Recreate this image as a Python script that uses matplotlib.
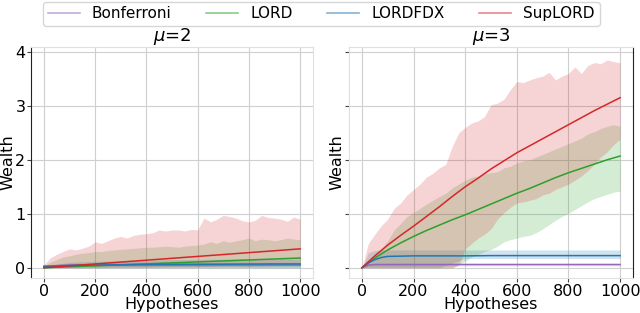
import numpy as np
import matplotlib
matplotlib.use("Agg")
import matplotlib.pyplot as plt
from matplotlib.lines import Line2D

methods = ["Bonferroni", "LORD", "LORDFDX", "SupLORD"]
colors = {"Bonferroni": "tab:purple", "LORD": "tab:green",
          "LORDFDX": "tab:blue", "SupLORD": "tab:red"}
titles = [r"$\mu$=2", r"$\mu$=3"]

# hypothesis index grids
x25 = np.arange(0, 1001, 25)    # 41 points
x50 = np.arange(0, 1001, 50)    # 21 points
x100 = np.arange(0, 1001, 100)  # 11 points

# ---------------- mu = 2 (left) ----------------
m2_sup_mean = [0.0, 0.035, 0.07, 0.105, 0.14, 0.175, 0.21, 0.245, 0.28, 0.315, 0.35]
m2_sup_low = [0.0, 0.0, 0.0, 0.01, 0.01, 0.02, 0.02, 0.03, 0.03, 0.04, 0.05]
m2_sup_up = [0.05, 0.18, 0.25, 0.30, 0.35, 0.33, 0.36, 0.40, 0.48, 0.45, 0.50, 0.55,
             0.58, 0.55, 0.60, 0.62, 0.63, 0.65, 0.70, 0.68, 0.70, 0.70, 0.68, 0.71,
             0.70, 0.92, 0.85, 0.90, 0.97, 0.95, 0.92, 0.87, 0.85, 0.88, 0.97, 0.93,
             0.92, 0.90, 0.86, 0.94, 0.90]
m2_lord_mean = [0.0, 0.018, 0.036, 0.054, 0.072, 0.09, 0.108, 0.126, 0.144, 0.162, 0.18]
m2_lord_low = [0.0, 0.0, 0.0, 0.0, 0.0, 0.0, 0.0, 0.0, 0.0, 0.0, 0.0]
m2_lord_up = [0.03, 0.10, 0.15, 0.20, 0.22, 0.25, 0.27, 0.28, 0.30, 0.30, 0.32, 0.33,
              0.34, 0.35, 0.36, 0.37, 0.38, 0.38, 0.39, 0.40, 0.39, 0.38, 0.40, 0.41,
              0.42, 0.44, 0.48, 0.45, 0.50, 0.47, 0.50, 0.52, 0.55, 0.50, 0.53, 0.52,
              0.50, 0.52, 0.55, 0.53, 0.52]
m2_fdx_mean = [0.02, 0.04, 0.05, 0.055, 0.06, 0.062, 0.064, 0.066, 0.068, 0.07, 0.07]
m2_fdx_low = [0.0, 0.0, 0.0, 0.0, 0.0, 0.0, 0.0, 0.0, 0.0, 0.0, 0.0]
m2_fdx_up = [0.03, 0.10, 0.12, 0.13, 0.14, 0.15, 0.15, 0.16, 0.16, 0.16, 0.16]
m2_bon_mean = [0.03, 0.05, 0.05, 0.05, 0.05, 0.05, 0.05, 0.05, 0.05, 0.05, 0.05]
m2_bon_low = [0.0, 0.02, 0.02, 0.02, 0.02, 0.02, 0.02, 0.02, 0.02, 0.02, 0.02]
m2_bon_up = [0.03, 0.08, 0.09, 0.10, 0.10, 0.10, 0.10, 0.10, 0.10, 0.10, 0.10]

# ---------------- mu = 3 (right) ----------------
m3_sup_mean = [0.0, 0.22, 0.42, 0.60, 0.77, 0.95, 1.13, 1.32, 1.50, 1.66, 1.83,
               1.98, 2.13, 2.26, 2.39, 2.52, 2.65, 2.78, 2.91, 3.03, 3.15]
m3_sup_up = [0.0, 0.45, 0.62, 0.78, 0.90, 1.10, 1.20, 1.35, 1.45, 1.55, 1.68, 1.75,
             1.85, 1.92, 2.25, 2.50, 2.60, 2.68, 2.72, 2.80, 3.02, 3.05, 3.12, 3.30,
             3.45, 3.43, 3.48, 3.52, 3.55, 3.62, 3.48, 3.55, 3.60, 3.72, 3.60, 3.75,
             3.80, 3.78, 3.85, 3.82, 3.80]
m3_sup_low = [0.0, 0.0, 0.0, 0.0, 0.0, 0.0, 0.0, 0.0, 0.0, 0.0, 0.0, 0.0,
              0.0, 0.0, 0.0, 0.05, 0.35, 0.45, 0.55, 0.62, 0.72, 0.90, 1.02, 1.12,
              1.20, 1.22, 1.25, 1.28, 1.35, 1.38, 1.45, 1.50, 1.55, 1.62, 1.70, 1.80,
              1.92, 2.05, 2.15, 2.28, 2.38]
m3_lord_mean = [0.0, 0.18, 0.33, 0.46, 0.58, 0.69, 0.79, 0.89, 0.98, 1.08, 1.18,
                1.28, 1.38, 1.47, 1.57, 1.67, 1.76, 1.84, 1.92, 2.00, 2.07]
m3_lord_up = [0.0, 0.10, 0.25, 0.35, 0.50, 0.70, 0.82, 0.95, 1.02, 1.10, 1.18, 1.25,
              1.32, 1.38, 1.48, 1.55, 1.62, 1.68, 1.70, 1.74, 1.76, 1.78, 1.85, 1.88,
              1.94, 1.98, 2.00, 2.05, 2.10, 2.15, 2.20, 2.25, 2.30, 2.35, 2.40, 2.48,
              2.52, 2.58, 2.62, 2.65, 2.62]
m3_lord_low = [0.0, 0.0, 0.0, 0.0, 0.0, 0.0, 0.0, 0.0, 0.0, 0.0, 0.0, 0.0,
               0.0, 0.0, 0.0, 0.05, 0.12, 0.20, 0.25, 0.30, 0.34, 0.40, 0.48, 0.52,
               0.55, 0.58, 0.60, 0.65, 0.72, 0.80, 0.88, 0.95, 1.01, 1.08, 1.15, 1.22,
               1.28, 1.32, 1.36, 1.40, 1.42]
m3_fdx_x = [0, 25, 50, 75, 100, 200, 300, 400, 500, 600, 700, 800, 900, 1000]
m3_fdx_mean = [0.0, 0.09, 0.15, 0.19, 0.21, 0.22, 0.22, 0.22, 0.225, 0.225, 0.225, 0.225, 0.225, 0.225]
m3_fdx_up = [0.0, 0.28, 0.32, 0.33, 0.33, 0.33, 0.33, 0.33, 0.33, 0.33, 0.33, 0.33, 0.33, 0.33]
m3_fdx_low_x = [0, 375, 400, 1000]
m3_fdx_low = [0.0, 0.0, 0.17, 0.17]
m3_bon_x = [0, 25, 50, 100, 1000]
m3_bon_mean = [0.0, 0.05, 0.06, 0.06, 0.06]
m3_bon_low = [0.0, 0.03, 0.035, 0.035, 0.035]
m3_bon_up = [0.0, 0.07, 0.08, 0.08, 0.08]

W, H = 6.4, 3.13
fig = plt.figure(figsize=(W, H), dpi=100)
ax1 = fig.add_axes([31 / 640, 1 - 278 / 313, 282 / 640, 231 / 313])
ax2 = fig.add_axes([349 / 640, 1 - 278 / 313, 284 / 640, 231 / 313], sharey=ax1)

FA = 0.2
LW = 1.1


def band(ax, x, lo, hi, c):
    ax.fill_between(x, lo, hi, color=c, alpha=FA, linewidth=0)


# left panel
band(ax1, x100, m2_bon_low, m2_bon_up, colors["Bonferroni"])
band(ax1, x100, m2_fdx_low, m2_fdx_up, colors["LORDFDX"])
band(ax1, x25, np.interp(x25, x100, m2_lord_low), m2_lord_up, colors["LORD"])
band(ax1, x25, np.interp(x25, x100, m2_sup_low), m2_sup_up, colors["SupLORD"])
ax1.plot(x100, m2_bon_mean, color=colors["Bonferroni"], lw=LW)
ax1.plot(x100, m2_lord_mean, color=colors["LORD"], lw=LW)
ax1.plot(x100, m2_fdx_mean, color=colors["LORDFDX"], lw=LW)
ax1.plot(x100, m2_sup_mean, color=colors["SupLORD"], lw=LW)

# right panel
band(ax2, m3_bon_x, m3_bon_low, m3_bon_up, colors["Bonferroni"])
band(ax2, m3_fdx_x, np.interp(m3_fdx_x, m3_fdx_low_x, m3_fdx_low), m3_fdx_up, colors["LORDFDX"])
band(ax2, x25, m3_lord_low, m3_lord_up, colors["LORD"])
band(ax2, x25, m3_sup_low, m3_sup_up, colors["SupLORD"])
ax2.plot(m3_bon_x, m3_bon_mean, color=colors["Bonferroni"], lw=LW)
ax2.plot(x50, m3_lord_mean, color=colors["LORD"], lw=LW)
ax2.plot(m3_fdx_x, m3_fdx_mean, color=colors["LORDFDX"], lw=LW)
ax2.plot(x50, m3_sup_mean, color=colors["SupLORD"], lw=LW)

for i, ax in enumerate([ax1, ax2]):
    ax.set_xlim(-50, 1050)
    ax.set_ylim(-0.19, 4.09)
    ax.set_xticks([0, 200, 400, 600, 800, 1000])
    ax.set_yticks([0, 1, 2, 3, 4])
    ax.grid(True, color="#cfcfcf", lw=0.8)
    ax.set_axisbelow(True)
    ax.set_title(titles[i], fontsize=13, pad=3)
    ax.set_xlabel("Hypotheses", fontsize=11.5, labelpad=-1)
    ax.set_ylabel("Wealth", fontsize=11.5, labelpad=0)
    ax.tick_params(labelsize=11.5, length=3, pad=1, color="#444444")
    for s in ax.spines.values():
        s.set_color("#e0e0e0")
ax1.spines["left"].set_color("#222222")
ax2.spines["right"].set_color("#222222")
ax2.tick_params(labelleft=False)

handles = [Line2D([], [], color=colors[m], lw=1.2, alpha=0.55) for m in methods]
fig.legend(handles, methods, loc="upper center", bbox_to_anchor=(0.502, 1.0),
           ncol=4, fontsize=11, frameon=True, borderaxespad=0.1, borderpad=0.3,
           columnspacing=2.25, handlelength=2.1)

fig.savefig("out.png", dpi=100)
